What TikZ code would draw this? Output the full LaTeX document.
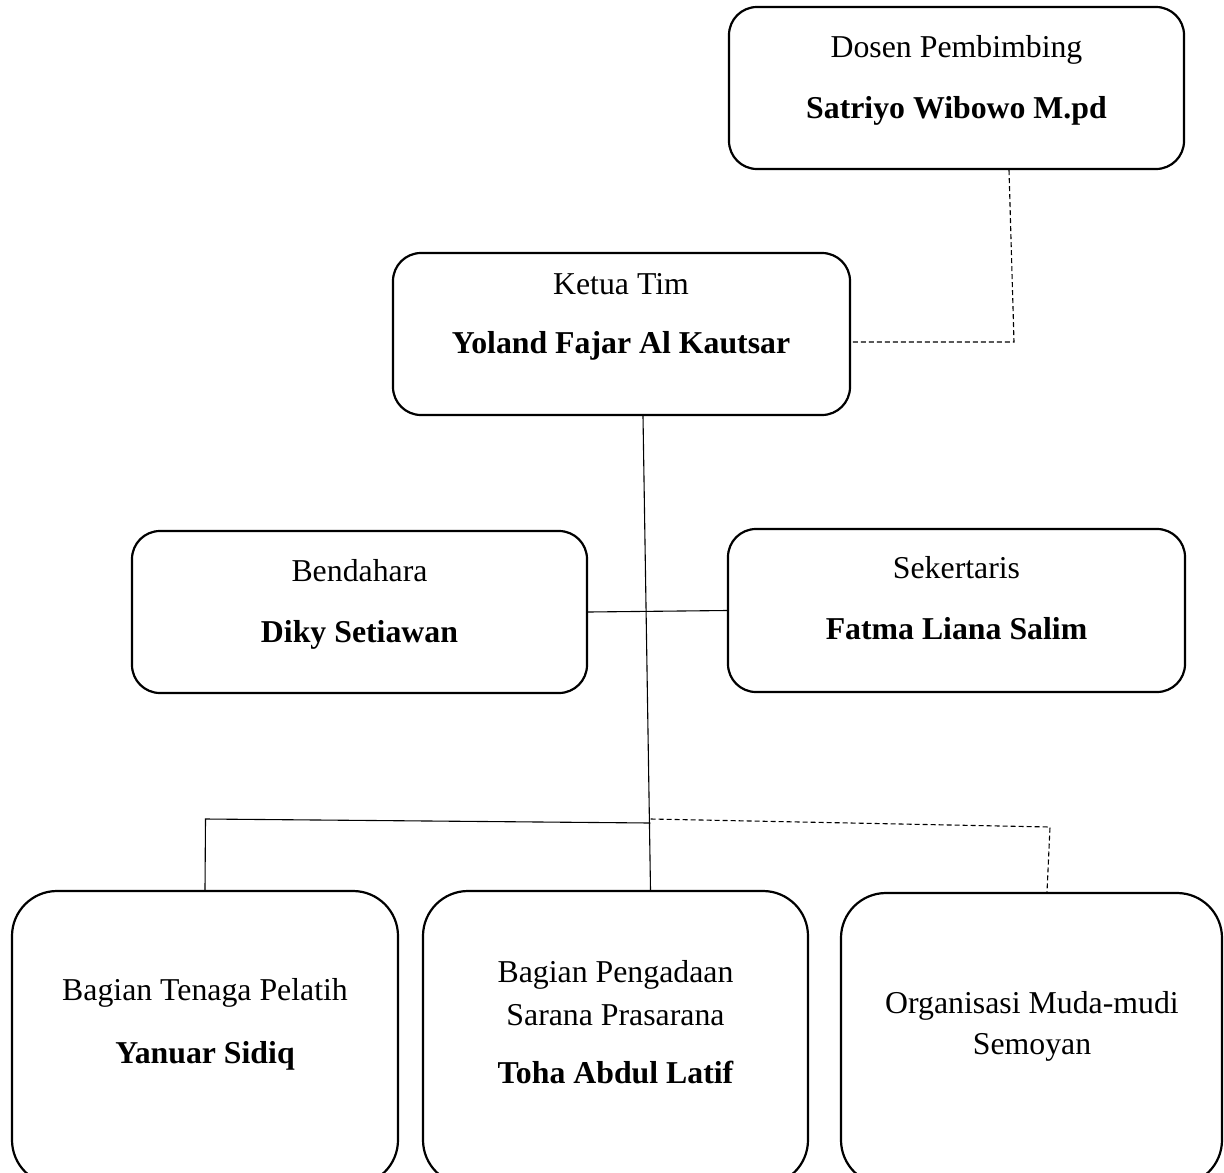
\documentclass[tikz,border=0pt]{standalone}
\usepackage{fontspec}
\setmainfont{Liberation Serif}
\usetikzlibrary{positioning}

\begin{document}
\begin{tikzpicture}[x=1pt,y=-1pt,
  unit/.style={draw, line width=2.2pt, rounded corners=28pt, inner sep=0pt},
  section/.style={draw, line width=2.2pt, rounded corners=45pt, inner sep=0pt},
  role/.style={anchor=base, font=\fontsize{31.8pt}{38pt}\selectfont},
  person/.style={anchor=base, font=\fontsize{31.8pt}{38pt}\selectfont\bfseries},
  link/.style={line width=1.1pt},
  dashlink/.style={line width=1.1pt, dash pattern=on 5pt off 3pt}]

\clip (0,0) rectangle (1224,1173);

% top boxes
\node[unit, minimum width=455pt, minimum height=162pt] (dosen) at (956.5,88) {};
\node[unit, minimum width=457pt, minimum height=162pt] (ketua) at (621.5,334) {};

% middle boxes
\node[unit, minimum width=455pt, minimum height=162pt] (bendahara) at (359.5,612) {};
\node[unit, minimum width=457pt, minimum height=163pt] (sekertaris) at (956.5,610.5) {};

% bottom boxes (cut off at the page bottom)
\node[section, minimum width=386pt, minimum height=294pt] (pelatih) at (205,1038) {};
\node[section, minimum width=385pt, minimum height=294pt] (sarana) at (615.5,1038) {};
\node[section, minimum width=381pt, minimum height=292pt] (mudamudi) at (1031.5,1039) {};

% texts in the boxes
\node[role] (dosen-role) at (956.5,57) {Dosen Pembimbing};
\node[person] (dosen-name) at (956.5,118) {Satriyo Wibowo M.pd};

\node[role] (ketua-role) at (621,294) {Ketua Tim};
\node[person] (ketua-name) at (621,353) {Yoland Fajar Al Kautsar};

\node[role] (bendahara-role) at (359.5,581) {Bendahara};
\node[person] (bendahara-name) at (359.5,642) {Diky Setiawan};

\node[role] (sekertaris-role) at (956.5,578) {Sekertaris};
\node[person] (sekertaris-name) at (956.5,639) {Fatma Liana Salim};

\node[role] (pelatih-role) at (205,1000) {Bagian Tenaga Pelatih};
\node[person] (pelatih-name) at (205,1063) {Yanuar Sidiq};

\node[role] (sarana-role) at (615.5,982) {Bagian Pengadaan};
\node[role] (sarana-role2) at (615.5,1025) {Sarana Prasarana};
\node[person] (sarana-name) at (615.5,1083) {Toha Abdul Latif};

\node[role] (mudamudi-role) at (1032,1013) {Organisasi Muda-mudi};
\node[role] (mudamudi-role2) at (1032,1054) {Semoyan};

% bends of the connectors
\coordinate (dosen-bend) at (1014,342);
\coordinate (left-bend) at (205.5,819);
\coordinate (hub-left) at (650.3,823);
\coordinate (hub-right) at (650.6,819);
\coordinate (right-bend) at (1050,827);

% dashed line supervisor - leader
\draw[dashlink] ([xshift=52.5pt]dosen.south) -- (dosen-bend) -- ([yshift=-8pt]ketua.east);

% main vertical line
\draw[link] ([xshift=21.5pt]ketua.south) -- ([xshift=35pt]sarana.north);

% treasurer - secretary
\draw[link] (bendahara.east) -- (sekertaris.west);

% left branch
\draw[link] (pelatih.north) -- (left-bend) -- (hub-left);

% dashed right branch
\draw[dashlink] (hub-right) -- (right-bend) -- ([xshift=15.5pt]mudamudi.north);

\end{tikzpicture}
\end{document}
